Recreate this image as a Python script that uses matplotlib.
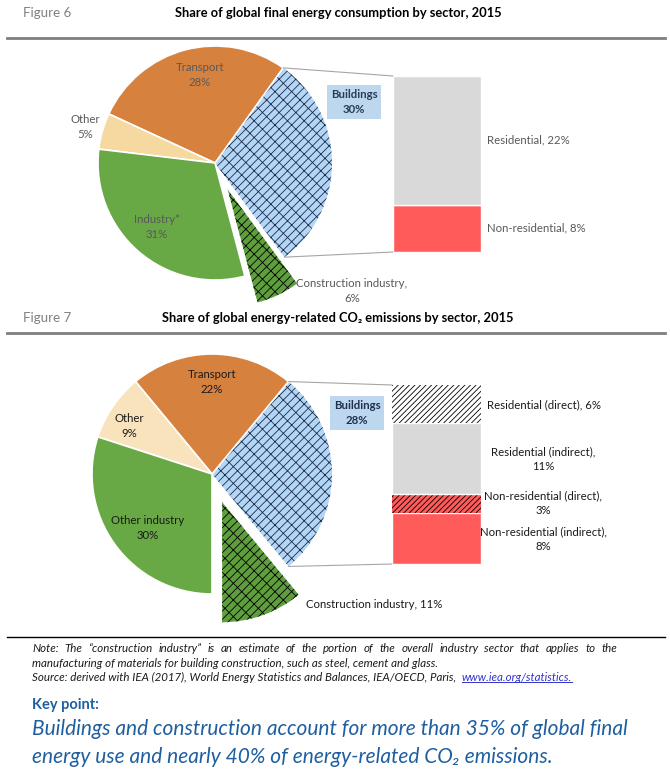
import numpy as np
import matplotlib
matplotlib.use("Agg")
import matplotlib.pyplot as plt
from matplotlib.patches import ConnectionPatch

plt.rcParams['font.family'] = ['Lato', 'DejaVu Sans']
plt.rcParams['hatch.linewidth'] = 0.6

# Figure 6: final energy consumption (%)
energy_sectors = ["Buildings", "Transport", "Other", "Industry*", "Construction industry"]
energy_shares = [30, 28, 5, 31, 6]
energy_parts = ["Non-residential", "Residential"]
energy_part_shares = [8, 22]

# Figure 7: energy-related CO2 emissions (%)
co2_sectors = ["Buildings", "Transport", "Other", "Other industry", "Construction industry"]
co2_shares = [28, 22, 9, 30, 11]
co2_parts = ["Non-residential (indirect)", "Non-residential (direct)",
             "Residential (indirect)", "Residential (direct)"]
co2_part_shares = [8, 3, 11, 6]

W, H = 670, 776
fig = plt.figure(figsize=(W / 100, H / 100), dpi=100)
bg = fig.add_axes([0, 0, 1, 1])
bg.set_xlim(0, W)
bg.set_ylim(H, 0)
bg.axis('off')
bg.set_zorder(10)  # text layer above the pies


def px_axes(x0, y0, x1, y1):
    return fig.add_axes([x0 / W, 1 - y1 / H, (x1 - x0) / W, (y1 - y0) / H])


def panel(cx, cy, r, shares, start, pie_colors, bar_box, parts, part_colors, part_hatch):
    ax = px_axes(cx - 1.35 * r, cy - 1.35 * r, cx + 1.35 * r, cy + 1.35 * r)
    wedges, _ = ax.pie(shares, colors=pie_colors, startangle=start,
                       explode=[0, 0, 0, 0, 0.25],
                       wedgeprops=dict(edgecolor='white', linewidth=1.2))
    ax.set_xlim(-1.35, 1.35)
    ax.set_ylim(-1.35, 1.35)
    ax.set_aspect('equal')
    ax.axis('off')
    # brick-like hatching on buildings and construction
    wedges[0].set_hatch('xx//')
    wedges[0].set_edgecolor('#1c2b4a')
    wedges[0].set_linewidth(0)
    wedges[4].set_hatch('xx//')
    wedges[4].set_edgecolor('black')
    wedges[4].set_linewidth(0)

    bx = px_axes(*bar_box)
    bottom = 0
    for v, c, h in zip(parts, part_colors, part_hatch):
        if h:
            bx.bar(0, v, bottom=bottom, width=1, color=c, hatch=h,
                   edgecolor='black', linewidth=0)
        else:
            bx.bar(0, v, bottom=bottom, width=1, color=c,
                   edgecolor='white', linewidth=1)
        bottom += v
    bx.set_xlim(-0.5, 0.5)
    bx.set_ylim(0, sum(parts))
    bx.axis('off')

    w = wedges[0]
    for th, yb in ((w.theta2, sum(parts)), (w.theta1, 0)):
        p = (np.cos(np.radians(th)), np.sin(np.radians(th)))
        con = ConnectionPatch(xyA=(-0.5, yb), coordsA=bx.transData,
                              xyB=p, coordsB=ax.transData,
                              color='#a6a6a6', lw=0.8)
        fig.add_artist(con)


def header(y, fig_no, title, line_y):
    bg.text(23, y, fig_no, fontsize=9.6, color='#808080', va='center')
    bg.text(338, y, title, fontsize=9.3, fontweight='bold', ha='center', va='center')
    bg.plot([7, 665], [line_y, line_y], color='#7f7f7f', lw=2)


def bld_box(x, y, text, color):
    bg.text(x, y, text, fontsize=8.2, fontweight='bold', color=color, ha='center',
            va='center', linespacing=1.45,
            bbox=dict(boxstyle='square,pad=0.35', fc='#bdd7ee', ec='none'))


def justify(x0, x1, y, text, **kw):
    # spread the words of one line evenly between x0 and x1
    arts = [bg.text(0, y, word, **kw) for word in text.split()]
    r = fig.canvas.get_renderer()
    widths = [a.get_window_extent(r).width for a in arts]
    gap = (x1 - x0 - sum(widths)) / (len(arts) - 1)
    x = x0
    for a, wd in zip(arts, widths):
        a.set_x(x)
        x += wd + gap


# ---- Figure 6
header(13, "Figure 6", "Share of global final energy consumption by sector, 2015", 38)
panel(215, 163, 117, energy_shares, 360 - 53.6,
      ['#b4d6f6', '#d7813f', '#f5d9a0', '#68a845', '#5e9e3c'],
      (393, 76, 481, 252), energy_part_shares, ['#ff5b5b', '#d9d9d9'], [None, None])

g1 = '#595959'
kw1 = dict(fontsize=8.2, color=g1, ha='center', va='center', linespacing=1.45)
bg.text(200, 75, "Transport\n28%", **kw1)
bg.text(85, 127, "Other\n5%", **kw1)
bg.text(157, 227, "Industry*\n31%", **kw1)
bg.text(352, 291, "Construction industry,\n6%", **kw1)
bld_box(354, 102, "Buildings\n30%", '#2b3b57')
bg.text(487, 140, "Residential, 22%", fontsize=8.2, color=g1, va='center')
bg.text(487, 228, "Non-residential, 8%", fontsize=8.2, color=g1, va='center')

# ---- Figure 7
header(318, "Figure 7", "Share of global energy-related CO\u2082 emissions by sector, 2015", 333)
panel(212, 474, 120, co2_shares, 360 - 50.4,
      ['#b4d6f6', '#d7813f', '#f8e3bc', '#68a845', '#5e9e3c'],
      (392, 385, 481, 564), co2_part_shares,
      ['#ff5b5b', '#ff5b5b', '#d9d9d9', 'white'], [None, '//////', None, '//////'])

g2 = '#1a1a1a'
kw2 = dict(fontsize=8.2, color=g2, ha='center', va='center', linespacing=1.45)
bg.text(212, 382, "Transport\n22%", **kw2)
bg.text(129, 426, "Other\n9%", **kw2)
bg.text(148, 528, "Other industry\n30%", **kw2)
bld_box(357, 413, "Buildings\n28%", '#1f3050')
bg.text(487, 405, "Residential (direct), 6%", fontsize=8.2, color=g2, va='center')
bg.text(543, 459, "Residential (indirect),\n11%", **kw2)
bg.text(543, 503, "Non-residential (direct),\n3%", **kw2)
bg.text(543, 539, "Non-residential (indirect),\n8%", **kw2)
bg.text(306, 605, "Construction industry, 11%", fontsize=8.2, color=g2, va='center')

# ---- notes and key point
bg.plot([7, 665], [637, 637], color='black', lw=1)
nkw = dict(fontsize=8.3, style='italic', color='#1a1a1a', va='baseline')
justify(32, 617, 652, "Note: The \u201cconstruction industry\u201d is an estimate of the portion "
        "of the overall industry sector that applies to the", **nkw)
bg.text(32, 667, "manufacturing of materials for building construction, such as steel, "
        "cement and glass.", **nkw)
src = bg.text(32, 681, "Source: derived with IEA (2017), World Energy Statistics and Balances, "
              "IEA/OECD, Paris,  ", **nkw)
link = bg.annotate("www.iea.org/statistics.", xy=(1, 0), xycoords=src, va='bottom',
                   fontsize=8.3, style='italic', color='#3333cc')
blue = '#1f5fa0'
bg.text(32, 705, "Key point:", fontsize=10.5, fontweight='bold', color=blue, va='center')
bg.text(32, 729, "Buildings and construction account for more than 35% of global final",
        fontsize=15, style='italic', color=blue, va='center')
bg.text(32, 757, "energy use and nearly 40% of energy-related CO\u2082 emissions.",
        fontsize=15, style='italic', color=blue, va='center')

fig.canvas.draw()
bb = link.get_window_extent()
fig.add_artist(plt.Line2D([bb.x0, bb.x1], [bb.y0 + 1, bb.y0 + 1], color='#3333cc',
                          lw=0.7, transform=None, zorder=20))

fig.savefig("out.png", dpi=100)
